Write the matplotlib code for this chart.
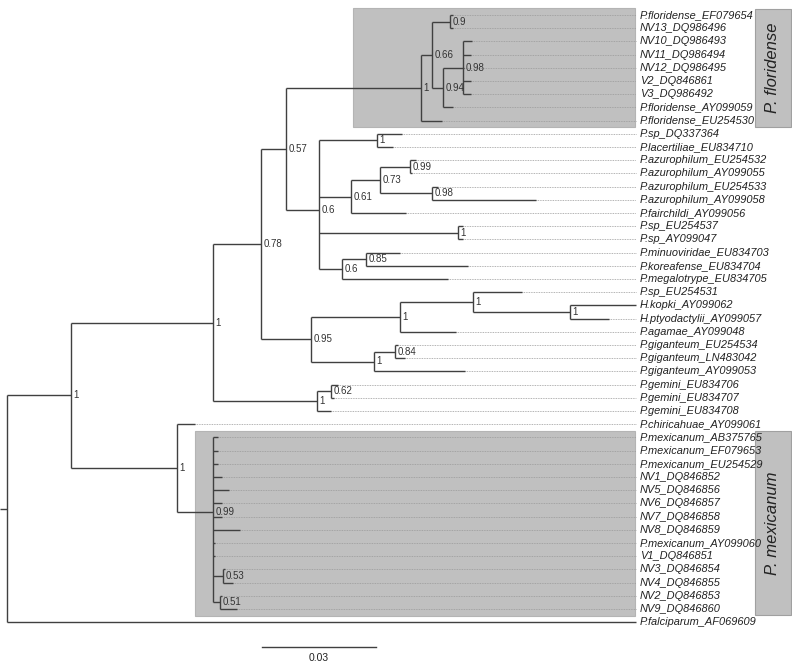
import matplotlib.pyplot as plt
from matplotlib.patches import Rectangle

plt.rcParams['font.family'] = ['Liberation Sans', 'DejaVu Sans']

# --- tree data (newick, branch lengths in substitutions/site, support as node labels) ---
FLORIDENSE = ("(((P.floridense_EF079654:0.0008,NV13_DQ986496:0.0008)0.9:0.0047,"
              "((NV10_DQ986493:0.0024,NV11_DQ986494:0.0021,NV12_DQ986495:0.0003,"
              "V2_DQ846861:0.0021,V3_DQ986492:0.0021)0.98:0.0053,"
              "P.floridense_AY099059:0.0026)0.94:0.0029)0.66:0.0029,"
              "P.floridense_EU254530:0.0055)1:0.0355")
SAURIAN = ("((P.sp_DQ337364:0.0066,P.lacertiliae_EU834710:0.0042)1:0.0153,"
           "(((P.azurophilum_EU254532:0.0016,P.azurophilum_AY099055:0.0005)0.99:0.0079,"
           "(P.azurophilum_EU254533:0.0016,P.azurophilum_AY099058:0.0274)0.98:0.0137)0.73:0.0076,"
           "P.fairchildi_AY099056:0.0145)0.61:0.0084,"
           "(P.sp_EU254537:0.0013,P.sp_AY099047:0.0013)1:0.0366,"
           "((P.minuoviridae_EU834703:0.0089,P.koreafense_EU834704:0.0268)0.85:0.0063,"
           "P.megalotrype_EU834705:0.0279)0.6:0.0061)0.6:0.0087")
HAEMO = ("(((P.sp_EU254531:0.0129,(H.kopki_AY099062:0.0174,H.ptyodactylii_AY099057:0.0103)1:0.0255)1:0.0192,"
         "P.agamae_AY099048:0.0147)1:0.0234,"
         "((P.giganteum_EU254534:0.0008,P.giganteum_LN483042:0.0026)0.84:0.0055,"
         "P.giganteum_AY099053:0.0239)1:0.0166)0.95:0.0132")
GEMINI = ("((P.gemini_EU834706:0.0018,P.gemini_EU834707:0.0008)0.62:0.0037,"
          "P.gemini_EU834708:0.0037)1:0.0274")
MEXICANUM = ("(P.chiricahuae_AY099061:0.0047,"
             "(P.mexicanum_AB375765:0.0013,P.mexicanum_EF079653:0.0013,P.mexicanum_EU254529:0.0013,"
             "NV1_DQ846852:0.0024,NV5_DQ846856:0.0042,NV6_DQ846857:0.0024,NV7_DQ846858:0.0024,"
             "NV8_DQ846859:0.0071,P.mexicanum_AY099060:0.0005,V1_DQ846851:0.0005,"
             "(NV3_DQ846854:0.0005,NV4_DQ846855:0.0026)0.53:0.0026,"
             "(NV2_DQ846853:0.0005,NV9_DQ846860:0.0045)0.51:0.0018)0.99:0.0095)1:0.0279")
OUTGROUP = "P.falciparum_AF069609:0.1655"

TREE = ("(((((" + FLORIDENSE + "," + SAURIAN + ")0.57:0.0066," + HAEMO + ")0.78:0.0126,"
        + GEMINI + ")1:0.0374," + MEXICANUM + ")1:0.0168," + OUTGROUP + "):0.0018;")

GROUPS = ["P. floridense", "P. mexicanum"]
GROUP_LEAVES = [(0, 8), (32, 45)]   # first/last leaf row of each shaded clade
SCALE_LEN = 0.03

# --- parse ---
def parse_newick(s):
    s = s.strip().rstrip(';')
    pos = 0

    def node():
        nonlocal pos
        n = {'children': [], 'name': '', 'length': 0.0}
        if s[pos] == '(':
            pos += 1
            while True:
                n['children'].append(node())
                if s[pos] == ',':
                    pos += 1
                    continue
                pos += 1  # ')'
                break
        start = pos
        while pos < len(s) and s[pos] not in ',():':
            pos += 1
        n['name'] = s[start:pos]
        if pos < len(s) and s[pos] == ':':
            pos += 1
            start = pos
            while pos < len(s) and s[pos] not in ',()':
                pos += 1
            n['length'] = float(s[start:pos])
        return n
    return node()

root = parse_newick(TREE)

leaves = []
def layout(n, x0):
    n['x0'] = x0
    n['x'] = x0 + n['length']
    if not n['children']:
        n['y'] = len(leaves)
        leaves.append(n)
    else:
        for c in n['children']:
            layout(c, n['x'])
        n['y'] = sum(c['y'] for c in n['children']) / len(n['children'])

layout(root, -root['length'])

# pixel -> data helpers (figure is 792x664 px)
PX = SCALE_LEN / 114.0
def xd(px):
    return (px - 7) * PX
def yd(py):
    return (py - 15) / 13.2

LABEL_X = xd(640)
LINE_END = xd(636)
TREE_COL = '#404040'

fig = plt.figure(figsize=(7.92, 6.64), dpi=100)
ax = fig.add_axes([0, 0, 1, 1])
ax.set_xlim(xd(0), xd(792))
ax.set_ylim(yd(664), yd(0))
ax.axis('off')

# shaded clades
box_left = [xd(353), xd(195)]
for (a, b), left, name in zip(GROUP_LEAVES, box_left, GROUPS):
    ax.add_patch(Rectangle((left, a - 0.5), xd(635) - left, b - a + 1,
                           facecolor='#c0c0c0', edgecolor='#b4b4b4', lw=0.8, zorder=0))
    ax.add_patch(Rectangle((xd(755), a - 0.45), xd(791) - xd(755), b - a + 0.9,
                           facecolor='#c0c0c0', edgecolor='#a0a0a0', lw=0.8, zorder=0))
    ax.text((xd(755) + xd(791)) / 2, (a + b) / 2, name, rotation=90, ha='center', va='center',
            fontsize=12, style='italic', color='#222222')

def draw(n):
    ax.plot([n['x0'], n['x']], [n['y'], n['y']], color=TREE_COL, lw=1.0,
            solid_capstyle='butt', zorder=3)
    if n['children']:
        ys = [c['y'] for c in n['children']]
        ax.plot([n['x'], n['x']], [min(ys), max(ys)], color=TREE_COL, lw=1.0,
                solid_capstyle='butt', zorder=3)
        if n is not root:
            ax.text(n['x'] + 2.5 * PX, n['y'], n['name'], fontsize=7, color='#333333',
                    ha='left', va='center', zorder=4)
        for c in n['children']:
            draw(c)
    else:
        if n['x'] < LINE_END:
            ax.plot([n['x'], LINE_END], [n['y'], n['y']], color='#9a9a9a', lw=0.6,
                    linestyle=(0, (1, 1)), zorder=2)
        ax.text(LABEL_X, n['y'], n['name'], fontsize=7.9, style='italic', color='#222222',
                ha='left', va='center')

draw(root)

# scale bar
sb_y = yd(647)
ax.plot([xd(262), xd(262) + SCALE_LEN], [sb_y, sb_y], color=TREE_COL, lw=1.0)
ax.text(xd(262) + SCALE_LEN / 2, yd(658), f'{SCALE_LEN:.2f}', ha='center', va='center',
        fontsize=7.5, color='#222222')

fig.savefig('out.png', dpi=100)
